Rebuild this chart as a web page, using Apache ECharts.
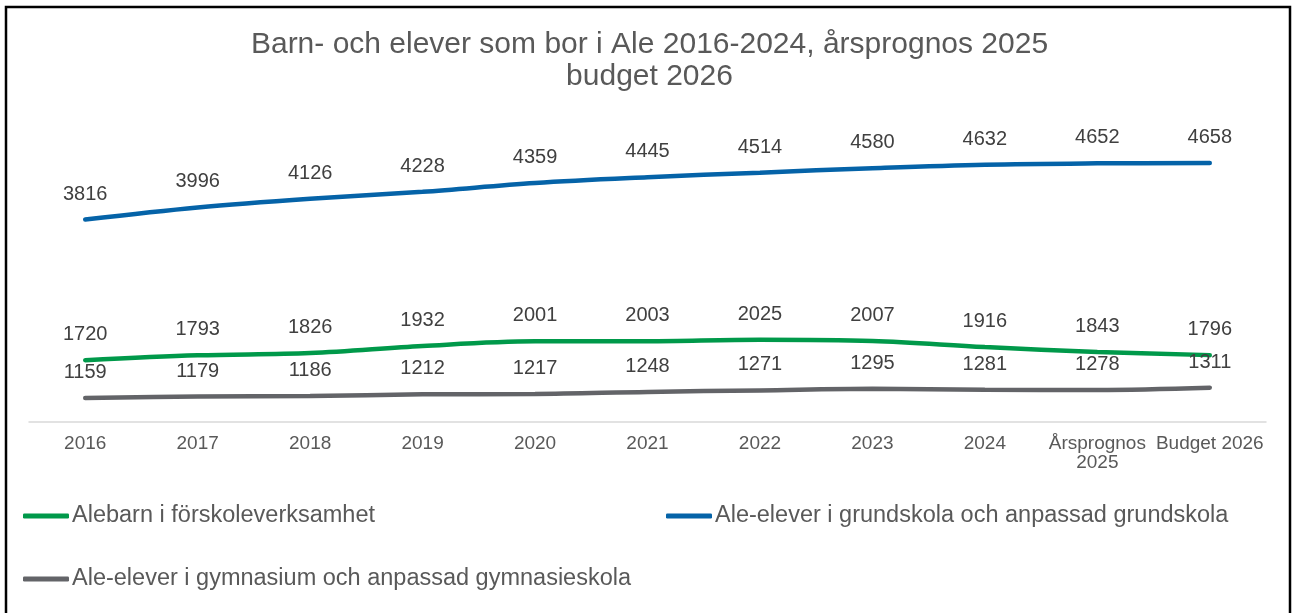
<!DOCTYPE html>
<html>
<head>
<meta charset="utf-8">
<script src="https://cdn.jsdelivr.net/npm/echarts@6/dist/echarts.min.js"></script>
<style>
html,body{margin:0;padding:0;background:#fff;}
#chart{width:1299px;height:613px;}
</style>
</head>
<body>
<div id="chart"></div>
<script>
const categories = ['2016','2017','2018','2019','2020','2021','2022','2023','2024','Årsprognos\n2025','Budget 2026'];
const seriesNames = ['Alebarn i förskoleverksamhet','Ale-elever i grundskola och anpassad grundskola','Ale-elever i gymnasium och anpassad gymnasieskola'];
const forskola = [1720,1793,1826,1932,2001,2003,2025,2007,1916,1843,1796];
const grundskola = [3816,3996,4126,4228,4359,4445,4514,4580,4632,4652,4658];
const gymnasium = [1159,1179,1186,1212,1217,1248,1271,1295,1281,1278,1311];
const titleText = 'Barn- och elever som bor i Ale 2016-2024, årsprognos 2025\nbudget 2026';

const FONT = "'Liberation Sans', Arial, sans-serif";
const colors = ['#00994a','#0563a8','#636468'];

function mkSeries(name, data, color) {
  return {
    name: name,
    type: 'line',
    data: data,
    smooth: 0.35,
    symbol: 'circle',
    symbolSize: 1,
    showSymbol: true,
    lineStyle: {width: 4.5, color: color, cap: 'round'},
    itemStyle: {color: color},
    label: {
      show: true, position: 'top', distance: 15,
      color: '#404040', fontSize: 20, fontFamily: FONT
    },
    emphasis: {disabled: true},
    silent: true
  };
}

function mkLegend(name, left, top) {
  return {
    data: [name],
    left: left, top: top,
    icon: 'roundRect',
    itemWidth: 46, itemHeight: 5,
    itemGap: 0,
    padding: 0,
    textStyle: {color: '#595959', fontSize: 23.5, fontFamily: FONT, padding: [0,0,0,-2], lineHeight: 24},
    selectedMode: false
  };
}

const chart = echarts.init(document.getElementById('chart'), null, {renderer: 'canvas'});
chart.setOption({
  animation: false,
  backgroundColor: '#fff',
  title: {
    text: titleText,
    left: 'center',
    top: 29,
    padding: 0,
    textStyle: {color: '#595959', fontSize: 30, fontWeight: 'normal', fontFamily: FONT, lineHeight: 32}
  },
  grid: {left: 29, right: 33, top: 140, bottom: 191, containLabel: false},
  xAxis: {
    type: 'category',
    data: categories,
    boundaryGap: true,
    axisLine: {show: true, lineStyle: {color: '#d9d9d9', width: 1.5}},
    axisTick: {show: false},
    axisLabel: {color: '#595959', fontSize: 19, fontFamily: FONT, margin: 12, lineHeight: 19, interval: 0}
  },
  yAxis: {
    type: 'value', min: 800, max: 5000, show: false,
    splitLine: {show: false}
  },
  legend: [
    mkLegend(seriesNames[0], 23, 504),
    mkLegend(seriesNames[1], 666, 504),
    mkLegend(seriesNames[2], 23, 567)
  ],
  series: [
    mkSeries(seriesNames[0], forskola, colors[0]),
    mkSeries(seriesNames[1], grundskola, colors[1]),
    mkSeries(seriesNames[2], gymnasium, colors[2])
  ],
  graphic: [{
    type: 'rect',
    shape: {x: 6, y: 7, width: 1284, height: 1000},
    style: {fill: 'none', stroke: '#000', lineWidth: 2.5},
    silent: true,
    z: 100
  }]
});
</script>
</body>
</html>
